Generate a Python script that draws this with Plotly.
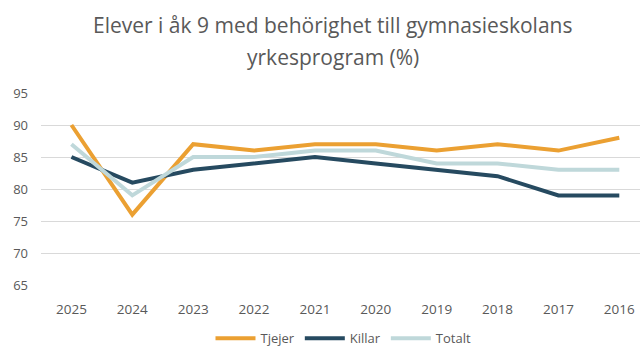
import plotly.graph_objects as go

years = ["2025", "2024", "2023", "2022", "2021", "2020", "2019", "2018", "2017", "2016"]
tjejer = [90, 76, 87, 86, 87, 87, 86, 87, 86, 88]
killar = [85, 81, 83, 84, 85, 84, 83, 82, 79, 79]
totalt = [87, 79, 85, 85, 86, 86, 84, 84, 83, 83]

title_lines = ["Elever i åk 9 med behörighet till gymnasieskolans", "yrkesprogram (%)"]

series = [
    ("Tjejer", tjejer, "#EBA032"),
    ("Killar", killar, "#264A60"),
    ("Totalt", totalt, "#BFD8DA"),
]

fig = go.Figure()
for name, vals, color in series:
    fig.add_trace(go.Scatter(
        x=years, y=vals, name=name, mode="lines",
        line=dict(color=color, width=4),
    ))

font_family = "Open Sans, Carlito, sans-serif"

# two-line title placed as separate annotations for exact line spacing
for text, ypos in zip(title_lines, [1.355, 1.185]):
    fig.add_annotation(
        text=text, xref="paper", yref="paper", x=0.487, y=ypos,
        xanchor="center", yanchor="middle", showarrow=False,
        font=dict(size=21, color="#595959", family=font_family),
    )

fig.update_layout(
    width=640, height=354,
    margin=dict(l=41, r=0, t=93, b=65),
    paper_bgcolor="white", plot_bgcolor="white",
    font=dict(family=font_family, color="#595959", size=12),
    xaxis=dict(
        type="category", range=[-0.5, 9.34],
        showgrid=False, showline=False, zeroline=False,
        ticks="", ticklabelstandoff=14,
        tickfont=dict(size=13.5, color="#595959"),
    ),
    yaxis=dict(
        range=[65, 95], dtick=5, tick0=65,
        showgrid=True, gridcolor="#D9D9D9", gridwidth=1,
        zeroline=False, showline=False, ticks="",
        ticklabelstandoff=12,
        tickfont=dict(size=13, color="#595959"),
    ),
    legend=dict(
        orientation="h", x=0.505, xanchor="center", y=-0.20, yanchor="top",
        font=dict(size=13, color="#595959"),
        itemwidth=40, tracegroupgap=0,
    ),
)

fig.write_html("out.html")
